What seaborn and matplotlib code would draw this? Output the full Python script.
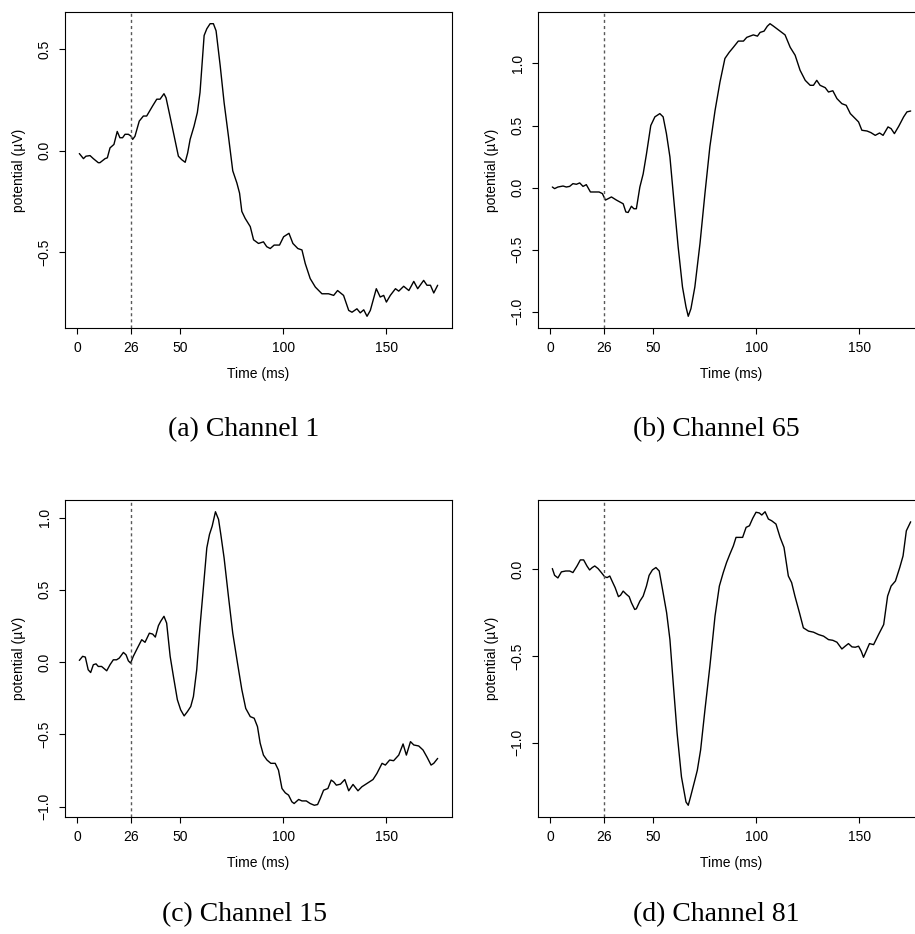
import matplotlib
matplotlib.use("Agg")
import matplotlib.pyplot as plt
import seaborn as sns
import pandas as pd

# ---------------- data ----------------
ch1_t = [1, 3, 4.2, 6.2, 7.8, 10.2, 11, 13.5, 14.6, 15.9, 17.8, 19.4, 20.7, 22, 23.2, 24.8, 26.1, 26.9, 28, 30.1,
         32.1, 33.7, 36.6, 38.6, 40.2, 42.1, 43.1, 45, 46.7, 49.1, 50.7, 52.4, 53.6, 54.8, 56.7, 58.3, 59.6, 61.6,
         62.9, 64.5, 66.1, 67.4, 69.4, 71.3, 73.4, 75.5, 77.5, 78.8, 79.9, 81.5, 84, 85.6, 88, 90.4, 92, 93.7, 95.6,
         98.2, 100.2, 102.8, 104.7, 107.1, 109.1, 110.7, 113.1, 115.6, 118.8, 122, 124.5, 126.4, 129.3, 131.8, 133.4,
         135.8, 137.4, 139.1, 140.7, 142.3, 145.2, 147.1, 148.8, 150.1, 152, 154.5, 156.1, 158.5, 161, 163.4, 165.3,
         168.2, 169.8, 171.5, 173.1, 175]
ch1_v = [-0.015, -0.04, -0.028, -0.025, -0.04, -0.06, -0.06, -0.04, -0.036, 0.013, 0.03, 0.094, 0.063, 0.063, 0.08,
         0.08, 0.071, 0.055, 0.07, 0.145, 0.17, 0.17, 0.22, 0.253, 0.253, 0.28, 0.26, 0.17, 0.088, -0.028, -0.045,
         -0.058, -0.012, 0.055, 0.12, 0.187, 0.286, 0.567, 0.6, 0.625, 0.625, 0.59, 0.418, 0.236, 0.071, -0.1, -0.16,
         -0.21, -0.3, -0.334, -0.375, -0.44, -0.458, -0.45, -0.474, -0.483, -0.466, -0.466, -0.425, -0.408, -0.458,
         -0.483, -0.49, -0.557, -0.631, -0.673, -0.706, -0.706, -0.714, -0.69, -0.714, -0.788, -0.797, -0.78, -0.8,
         -0.785, -0.817, -0.788, -0.681, -0.722, -0.714, -0.747, -0.714, -0.681, -0.693, -0.669, -0.69, -0.645,
         -0.681, -0.64, -0.664, -0.664, -0.702, -0.664]

ch65_t = [1, 2.1, 3.7, 6.2, 7.8, 9.4, 11, 12.7, 14.3, 15.9, 17.5, 19.5, 21.6, 23.7, 25.3, 26.8, 28.1, 29.7, 32.1,
          35.4, 36.7, 37.8, 39.4, 40.6, 41.8, 43.5, 45.1, 46.7, 48.8, 50.8, 53.2, 54.8, 56.4, 58.1, 60, 62.1, 64.2,
          65.9, 67, 68.3, 70.2, 72.7, 75.1, 77.5, 80, 82.4, 84.8, 86.9, 88.9, 91.3, 93.8, 95.4, 97, 98.6, 100.6,
          101.9, 103.8, 105.4, 106.7, 108.4, 110.8, 114, 116.5, 118.9, 121.3, 123.8, 126.2, 127.8, 129.4, 131, 133.5,
          135.1, 137.2, 139.2, 141.6, 143.7, 145.7, 148.1, 149.7, 151.3, 153.8, 155.7, 157.8, 159.9, 161.6, 164,
          165.5, 167.1, 169.2, 171.6, 173.2, 175]
ch65_v = [0.005, -0.008, 0.005, 0.013, 0.005, 0.01, 0.032, 0.027, 0.038, 0.01, 0.024, -0.035, -0.035, -0.035,
          -0.048, -0.1, -0.089, -0.075, -0.1, -0.13, -0.196, -0.2, -0.15, -0.17, -0.17, 0.005, 0.11, 0.27, 0.5, 0.57,
          0.596, 0.57, 0.435, 0.247, -0.1, -0.478, -0.8, -0.96, -1.036, -0.975, -0.8, -0.45, -0.048, 0.33, 0.62,
          0.85, 1.04, 1.09, 1.13, 1.18, 1.18, 1.21, 1.22, 1.23, 1.22, 1.25, 1.26, 1.3, 1.32, 1.3, 1.27, 1.23, 1.13,
          1.066, 0.945, 0.864, 0.824, 0.824, 0.864, 0.824, 0.805, 0.77, 0.78, 0.717, 0.676, 0.663, 0.596, 0.556,
          0.529, 0.462, 0.456, 0.443, 0.421, 0.44, 0.421, 0.489, 0.475, 0.435, 0.494, 0.57, 0.61, 0.617]

ch15_t = [1, 2.6, 3.9, 5.3, 6.5, 7.8, 9.1, 10.2, 11.8, 14.3, 15.9, 17.5, 19.1, 20.4, 22.4, 23.7, 24.8, 25.9, 27.2,
          29.2, 31.3, 32.9, 35, 36.6, 37.9, 39.4, 40.5, 42.1, 43.4, 45.1, 46.7, 48.6, 50.2, 51.9, 53.5, 55.1, 56.4,
          58, 59.6, 61.3, 62.9, 64.2, 65.5, 67.1, 68.6, 69.7, 71.3, 73.4, 75.5, 77.8, 79.9, 81.8, 84, 85.9, 87.5,
          88.8, 90.4, 92.1, 94, 96.1, 97.7, 99.4, 101, 102.6, 104.2, 105.3, 107.5, 109.1, 111.2, 113.1, 115.1, 116.7,
          118, 119.6, 121.7, 123.3, 124.5, 125.8, 127.8, 129.9, 131.8, 133.9, 136.3, 138.2, 140.7, 143.6, 145.5, 148,
          149.6, 151.7, 153.6, 156.1, 158.2, 159.8, 161.8, 163.4, 165.8, 167.9, 169.9, 171.8, 173.1, 175]
ch15_v = [0.012, 0.04, 0.035, -0.053, -0.072, -0.018, -0.012, -0.03, -0.03, -0.06, -0.018, 0.016, 0.016, 0.028,
          0.067, 0.05, 0.009, -0.007, 0.04, 0.097, 0.155, 0.137, 0.2, 0.194, 0.173, 0.252, 0.282, 0.317, 0.27, 0.04,
          -0.1, -0.26, -0.33, -0.372, -0.342, -0.307, -0.238, -0.053, 0.247, 0.525, 0.79, 0.883, 0.94, 1.04, 0.987,
          0.883, 0.72, 0.455, 0.2, -0.007, -0.19, -0.32, -0.377, -0.388, -0.446, -0.56, -0.643, -0.677, -0.7, -0.7,
          -0.747, -0.874, -0.904, -0.92, -0.966, -0.978, -0.95, -0.96, -0.96, -0.978, -0.99, -0.985, -0.943, -0.886,
          -0.874, -0.816, -0.828, -0.851, -0.844, -0.812, -0.89, -0.846, -0.89, -0.862, -0.839, -0.812, -0.77, -0.7,
          -0.712, -0.677, -0.682, -0.643, -0.566, -0.643, -0.55, -0.573, -0.58, -0.608, -0.659, -0.712, -0.7, -0.666]

ch81_t = [1, 2.1, 3.7, 5.4, 7.5, 9.4, 11, 13, 14.6, 16.2, 17.8, 19.1, 20.4, 21.6, 23.2, 24.8, 26.4, 27.6, 28.9,
          30.2, 31.5, 33.1, 34.1, 35.4, 37, 38.3, 39.4, 41, 41.8, 43.5, 45.1, 46.7, 48, 49.6, 51.3, 52.9, 54.5, 56.5,
          58.1, 59.7, 61.6, 63.7, 65.9, 67, 68.1, 70.2, 71.4, 73, 75.1, 77.5, 80, 82.1, 84, 85.6, 87.2, 88.9, 90.2,
          91.8, 93.4, 95.1, 96.7, 98.3, 99.9, 101.5, 102.7, 104.3, 105.9, 107.5, 109.6, 111.6, 113.5, 115.6, 117.2,
          118.8, 121, 122.9, 125.4, 127.8, 130.3, 132.7, 135.1, 137.2, 139.2, 141.6, 143.2, 144.8, 146.5, 148.1,
          149.7, 151, 152.1, 153.4, 155, 157, 159.4, 161.9, 163.8, 165.5, 167.6, 169.7, 171.3, 172.9, 175]
ch81_v = [0.004, -0.035, -0.05, -0.015, -0.01, -0.01, -0.019, 0.019, 0.054, 0.054, 0.019, -0.004, 0.01, 0.019,
          0.004, -0.019, -0.043, -0.048, -0.039, -0.073, -0.106, -0.158, -0.15, -0.126, -0.145, -0.158, -0.193,
          -0.232, -0.228, -0.184, -0.155, -0.097, -0.035, -0.004, 0.01, -0.01, -0.116, -0.251, -0.406, -0.657,
          -0.947, -1.198, -1.343, -1.362, -1.314, -1.217, -1.16, -1.043, -0.812, -0.56, -0.27, -0.097, -0.019, 0.039,
          0.087, 0.135, 0.184, 0.184, 0.184, 0.242, 0.251, 0.294, 0.329, 0.325, 0.313, 0.332, 0.29, 0.28, 0.261,
          0.184, 0.126, -0.039, -0.077, -0.155, -0.251, -0.338, -0.357, -0.363, -0.377, -0.386, -0.406, -0.41,
          -0.421, -0.46, -0.444, -0.429, -0.448, -0.45, -0.444, -0.473, -0.508, -0.473, -0.429, -0.435, -0.377,
          -0.319, -0.155, -0.097, -0.068, 0.01, 0.077, 0.222, 0.274]

captions = ["(a) Channel 1", "(b) Channel 65", "(c) Channel 15", "(d) Channel 81"]
x_ticks = [0, 26, 50, 100, 150]
y_ticks = [[-0.5, 0.0, 0.5],
           [-1.0, -0.5, 0.0, 0.5, 1.0],
           [-1.0, -0.5, 0.0, 0.5, 1.0],
           [-1.0, -0.5, 0.0]]
stimulus_onset = 26
x_label = "Time (ms)"
y_label = "potential (\u00b5V)"

series = [(ch1_t, ch1_v), (ch65_t, ch65_v), (ch15_t, ch15_v), (ch81_t, ch81_v)]

# ---------------- styling ----------------
sns.set_style("ticks")
plt.rcParams['font.family'] = ['Liberation Sans', 'DejaVu Sans']
plt.rcParams['axes.linewidth'] = 0.8
for key in ("text.color", "axes.labelcolor", "xtick.color", "ytick.color", "axes.edgecolor"):
    plt.rcParams[key] = "black"

W, H = 915, 934
fig = plt.figure(figsize=(W / 100, H / 100), dpi=100)

# axes boxes in pixels: left, top, right, bottom
boxes = [(65, 12, 452, 328), (538, 12, 925, 328), (65, 500, 452, 817), (538, 500, 925, 817)]
cap_pos = [(244, 436), (716, 436), (244, 921), (716, 921)]


def fmt(v):
    s = f"{abs(v):.1f}"
    return ("\u2212" + s) if v < 0 else s


for i, ((t, v), (l, tp, r, b)) in enumerate(zip(series, boxes)):
    ax = fig.add_axes([l / W, 1 - b / H, (r - l) / W, (b - tp) / H])
    df = pd.DataFrame({"time": t, "potential": v})
    sns.lineplot(data=df, x="time", y="potential", ax=ax, color="black",
                 linewidth=1.0, sort=False, estimator=None)
    ax.axvline(stimulus_onset, color="0.35", linestyle=(0, (2.2, 2.2)), linewidth=1.0)

    tmin, tmax = min(t), max(t)
    pad = 0.04 * (tmax - tmin)
    ax.set_xlim(tmin - pad, tmax + pad)
    vmin, vmax = min(v), max(v)
    pad = 0.04 * (vmax - vmin)
    ax.set_ylim(vmin - pad, vmax + pad)

    ax.set_xticks(x_ticks)
    ax.set_xticklabels([str(x) for x in x_ticks])
    ax.set_yticks(y_ticks[i])
    ax.set_yticklabels([fmt(y) for y in y_ticks[i]], rotation=90, va="center")
    ax.tick_params(direction="out", length=4.3, width=0.8, labelsize=10, pad=5.2,
                   color="black", labelcolor="black")
    for s in ax.spines.values():
        s.set_visible(True)
        s.set_color("black")
        s.set_linewidth(0.8)
    ax.set_xlabel(x_label, fontsize=10, labelpad=8.5, color="black")
    ax.set_ylabel(y_label, fontsize=10, labelpad=8.5, color="black")

    cx, cy = cap_pos[i]
    fig.text(cx / W, 1 - cy / H, captions[i], ha="center", va="baseline", color="black",
             fontsize=20, family=["Liberation Serif", "DejaVu Serif"])

fig.savefig("out.png", dpi=100)
